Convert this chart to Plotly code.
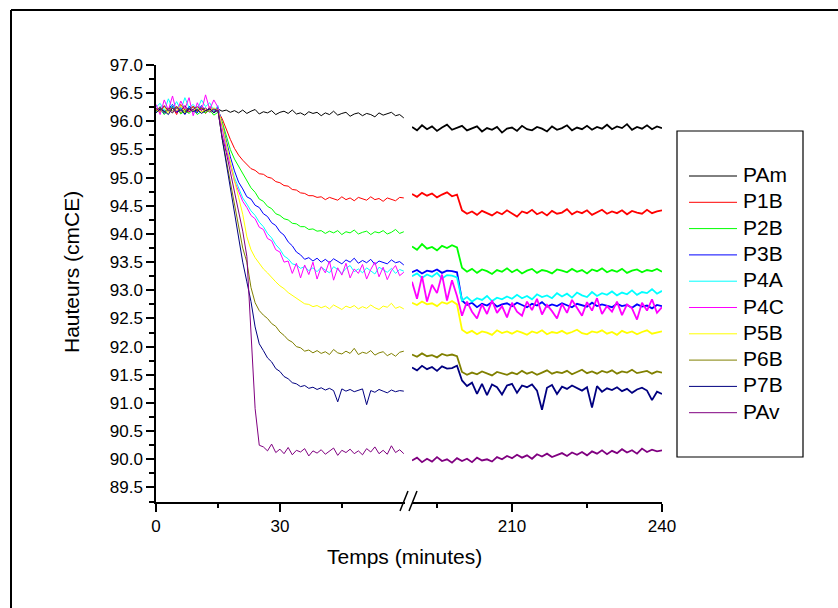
import plotly.graph_objects as go

# ---------------- data ----------------
t_left = list(range(0, 61))      # minutes, first segment
t_right = list(range(190, 241))  # minutes, second segment

names = ["PAm", "P1B", "P2B", "P3B", "P4A", "P4C", "P5B", "P6B", "P7B", "PAv"]
colors = ["#000000", "#FF0000", "#00FF00", "#0000FF", "#00FFFF",
          "#FF00FF", "#FFFF00", "#808000", "#000080", "#800080"]

pam_left = [96.20, 96.24, 96.17, 96.22, 96.26, 96.19, 96.23, 96.16, 96.25, 96.20,
            96.18, 96.23, 96.19, 96.22, 96.20, 96.22, 96.18, 96.20, 96.16, 96.19,
            96.15, 96.20, 96.14, 96.18, 96.21, 96.13, 96.17, 96.15, 96.19, 96.12,
            96.16, 96.18, 96.14, 96.20, 96.13, 96.15, 96.11, 96.17, 96.14, 96.16,
            96.10, 96.15, 96.12, 96.18, 96.11, 96.14, 96.16, 96.09, 96.13, 96.15,
            96.10, 96.14, 96.12, 96.08, 96.15, 96.11, 96.13, 96.16, 96.10, 96.12,
            96.06]
p1b_left = [96.22, 96.15, 96.28, 96.18, 96.25, 96.12, 96.30, 96.20, 96.16, 96.27,
            96.19, 96.24, 96.14, 96.26, 96.21, 96.18, 96.05, 95.85, 95.68, 95.52,
            95.40, 95.31, 95.24, 95.16, 95.13, 95.07, 95.06, 95.01, 94.99, 94.93,
            94.91, 94.86, 94.85, 94.79, 94.78, 94.73, 94.72, 94.68, 94.68, 94.65,
            94.66, 94.61, 94.65, 94.62, 94.60, 94.66, 94.61, 94.64, 94.59, 94.65,
            94.62, 94.60, 94.66, 94.61, 94.63, 94.58, 94.64, 94.61, 94.59, 94.65,
            94.64]
p2b_left = [96.16, 96.22, 96.12, 96.20, 96.15, 96.24, 96.13, 96.19, 96.14, 96.21,
            96.12, 96.18, 96.15, 96.20, 96.11, 96.16, 96.00, 95.76, 95.50, 95.33,
            95.20, 95.08, 94.96, 94.82, 94.74, 94.62, 94.58, 94.49, 94.45, 94.36,
            94.33, 94.27, 94.25, 94.19, 94.18, 94.13, 94.13, 94.08, 94.09, 94.05,
            94.06, 94.01, 94.05, 94.02, 94.06, 93.99, 94.04, 94.02, 94.07, 94.00,
            94.03, 94.05, 93.99, 94.04, 94.02, 94.06, 94.00, 94.03, 94.08, 94.01,
            94.04]
p3b_left = [96.18, 96.26, 96.14, 96.22, 96.30, 96.17, 96.24, 96.12, 96.27, 96.20,
            96.15, 96.28, 96.19, 96.23, 96.16, 96.25, 95.95, 95.65, 95.37, 95.12,
            94.92, 94.80, 94.66, 94.62, 94.51, 94.47, 94.36, 94.31, 94.20, 94.15,
            94.04, 93.98, 93.86, 93.79, 93.68, 93.63, 93.55, 93.58, 93.52, 93.57,
            93.50, 93.55, 93.49, 93.56, 93.51, 93.47, 93.54, 93.50, 93.57, 93.48,
            93.53, 93.49, 93.55, 93.46, 93.52, 93.50, 93.47, 93.54, 93.49, 93.51,
            93.45]
p4a_left = [96.25, 96.32, 96.18, 96.40, 96.22, 96.35, 96.20, 96.42, 96.24, 96.30,
            96.21, 96.38, 96.26, 96.33, 96.19, 96.28, 95.90, 95.55, 95.26, 95.00,
            94.81, 94.64, 94.53, 94.41, 94.33, 94.21, 94.13, 94.01, 93.93, 93.81,
            93.73, 93.61, 93.56, 93.47, 93.45, 93.39, 93.42, 93.35, 93.40, 93.33,
            93.41, 93.36, 93.31, 93.42, 93.37, 93.30, 93.39, 93.44, 93.33, 93.38,
            93.31, 93.40, 93.35, 93.29, 93.41, 93.36, 93.32, 93.39, 93.30, 93.37,
            93.34]
p4c_left = [96.30, 96.12, 96.38, 96.20, 96.45, 96.15, 96.36, 96.22, 96.42, 96.10,
            96.33, 96.18, 96.47, 96.21, 96.38, 96.25, 95.90, 95.50, 95.22, 94.94,
            94.76, 94.58, 94.47, 94.33, 94.27, 94.12, 94.08, 93.92, 93.88, 93.72,
            93.68, 93.50, 93.52, 93.30, 93.48, 93.22, 93.45, 93.28, 93.50, 93.20,
            93.42, 93.31, 93.52, 93.18, 93.40, 93.27, 93.48, 93.22, 93.38, 93.30,
            93.46, 93.20, 93.37, 93.50, 93.24, 93.41, 93.19, 93.35, 93.44, 93.26,
            93.32]
p5b_left = [96.21, 96.17, 96.26, 96.14, 96.23, 96.19, 96.28, 96.15, 96.22, 96.18,
            96.25, 96.16, 96.21, 96.18, 96.24, 96.20, 95.95, 95.60, 95.25, 94.95,
            94.65, 94.35, 93.95, 93.72, 93.58, 93.48, 93.38, 93.31, 93.22, 93.15,
            93.08, 93.03, 92.96, 92.91, 92.85, 92.81, 92.76, 92.75, 92.71, 92.73,
            92.69, 92.72, 92.67, 92.74, 92.70, 92.66, 92.72, 92.69, 92.73, 92.67,
            92.71, 92.68, 92.74, 92.69, 92.66, 92.72, 92.70, 92.77, 92.68, 92.71,
            92.67]
p6b_left = [96.19, 96.25, 96.16, 96.23, 96.18, 96.27, 96.15, 96.22, 96.20, 96.26,
            96.17, 96.24, 96.19, 96.22, 96.16, 96.20, 95.70, 95.30, 94.90, 94.50,
            94.10, 93.75, 93.50, 93.05, 92.78, 92.64, 92.56, 92.50, 92.41, 92.36,
            92.26, 92.20, 92.12, 92.08, 92.00, 91.98, 91.92, 91.94, 91.89, 91.93,
            91.88, 91.91, 91.86, 91.95, 91.89, 91.87, 91.92, 91.88, 91.97, 91.86,
            91.90, 91.88, 91.93, 91.85, 91.89, 91.91, 91.84, 91.88, 91.83, 91.90,
            91.92]
p7b_left = [96.15, 96.22, 96.18, 96.12, 96.24, 96.16, 96.20, 96.13, 96.23, 96.17,
            96.21, 96.14, 96.19, 96.22, 96.15, 96.20, 95.70, 95.25, 94.80, 94.35,
            93.90, 93.50, 93.15, 92.80, 92.35, 92.05, 91.93, 91.80, 91.73, 91.61,
            91.56, 91.47, 91.43, 91.36, 91.34, 91.29, 91.31, 91.26, 91.28, 91.24,
            91.27, 91.23, 91.26, 91.22, 91.02, 91.25, 91.21, 91.24, 91.20, 91.23,
            91.25, 90.97, 91.22, 91.19, 91.24, 91.21, 91.18, 91.23, 91.20, 91.22,
            91.21]
pav_left = [96.23, 96.18, 96.27, 96.20, 96.15, 96.25, 96.19, 96.28, 96.17, 96.22,
            96.26, 96.20, 96.24, 96.16, 96.22, 96.19, 95.75, 95.45, 95.10, 94.80,
            94.45, 94.05, 93.60, 92.30, 90.90, 90.25, 90.22, 90.15, 90.27, 90.12,
            90.18, 90.10, 90.21, 90.08, 90.16, 90.13, 90.19, 90.06, 90.15, 90.11,
            90.17, 90.09, 90.14, 90.20, 90.07, 90.16, 90.12, 90.18, 90.10, 90.15,
            90.08, 90.19, 90.13, 90.22, 90.10, 90.16, 90.09, 90.24, 90.12, 90.17,
            90.10]

pam_right = [95.90, 95.84, 95.93, 95.86, 95.91, 95.83, 95.89, 95.94, 95.85, 95.88,
             95.92, 95.84, 95.87, 95.91, 95.82, 95.88, 95.85, 95.90, 95.80, 95.87,
             95.89, 95.83, 95.92, 95.86, 95.84, 95.90, 95.87, 95.82, 95.91, 95.85,
             95.88, 95.93, 95.84, 95.89, 95.86, 95.92, 95.85, 95.90, 95.87, 95.94,
             95.86, 95.91, 95.88, 95.95, 95.85, 95.90, 95.87, 95.93, 95.86, 95.91,
             95.88]
p1b_right = [94.71, 94.66, 94.73, 94.68, 94.72, 94.65, 94.70, 94.74, 94.67, 94.70,
             94.42, 94.36, 94.40, 94.34, 94.41, 94.37, 94.33, 94.39, 94.35, 94.42,
             94.36, 94.31, 94.40, 94.37, 94.43, 94.35, 94.39, 94.33, 94.41, 94.36,
             94.38, 94.44, 94.35, 94.40, 94.37, 94.42, 94.34, 94.39, 94.43, 94.36,
             94.40, 94.37, 94.42, 94.35, 94.41, 94.38, 94.36, 94.43, 94.37, 94.40,
             94.42]
p2b_right = [93.78, 93.72, 93.82, 93.74, 93.77, 93.71, 93.79, 93.75, 93.80, 93.76,
             93.40, 93.33, 93.38, 93.31, 93.37, 93.34, 93.29, 93.36, 93.33, 93.39,
             93.32, 93.37, 93.30, 93.35, 93.38, 93.31, 93.36, 93.34, 93.30, 93.37,
             93.35, 93.32, 93.38, 93.33, 93.36, 93.30, 93.37, 93.34, 93.39, 93.32,
             93.36, 93.33, 93.38, 93.31, 93.35, 93.37, 93.32, 93.36, 93.34, 93.38,
             93.33]
p3b_right = [93.32, 93.36, 93.30, 93.35, 93.33, 93.37, 93.31, 93.35, 93.34, 93.32,
             92.82, 92.74, 92.78, 92.70, 92.76, 92.73, 92.79, 92.71, 92.75, 92.77,
             92.72, 92.78, 92.74, 92.70, 92.76, 92.73, 92.79, 92.71, 92.75, 92.72,
             92.77, 92.73, 92.70, 92.76, 92.74, 92.71, 92.78, 92.72, 92.75, 92.73,
             92.70, 92.76, 92.72, 92.74, 92.69, 92.75, 92.71, 92.73, 92.68, 92.74,
             92.72]
p4a_right = [93.25, 93.30, 93.22, 93.28, 93.24, 93.31, 93.21, 93.27, 93.26, 93.23,
             92.82, 92.88, 92.80, 92.86, 92.83, 92.90, 92.81, 92.87, 92.84, 92.89,
             92.85, 92.92, 92.86, 92.90, 92.84, 92.93, 92.88, 92.91, 92.86, 92.95,
             92.89, 92.94, 92.87, 92.96, 92.91, 92.88, 92.97, 92.90, 92.95, 92.92,
             92.98, 92.91, 92.96, 92.93, 93.00, 92.92, 92.97, 92.95, 93.02, 92.94,
             92.99]
p4c_right = [93.15, 92.85, 93.25, 92.80, 93.10, 92.95, 93.28, 92.82, 93.18, 92.90,
             92.55, 92.80, 92.62, 92.50, 92.75, 92.58, 92.82, 92.60, 92.72, 92.52,
             92.78, 92.62, 92.55, 92.80, 92.65, 92.85, 92.57, 92.74, 92.63, 92.50,
             92.76, 92.60, 92.83, 92.68, 92.55, 92.79, 92.64, 92.86, 92.58, 92.72,
             92.62, 92.80, 92.56, 92.75, 92.68, 92.48, 92.78, 92.64, 92.84, 92.60,
             92.70]
p5b_right = [92.78, 92.74, 92.80, 92.75, 92.77, 92.72, 92.79, 92.76, 92.81, 92.75,
             92.30, 92.24, 92.28, 92.22, 92.27, 92.25, 92.21, 92.29, 92.24, 92.27,
             92.23, 92.28, 92.25, 92.21, 92.27, 92.24, 92.29, 92.22, 92.26, 92.24,
             92.28, 92.23, 92.26, 92.30, 92.24, 92.22, 92.27, 92.25, 92.29, 92.23,
             92.26, 92.21, 92.28, 92.24, 92.27, 92.22, 92.26, 92.29, 92.23, 92.25,
             92.27]
p6b_right = [91.86, 91.82, 91.88, 91.83, 91.85, 91.81, 91.87, 91.84, 91.86, 91.83,
             91.55, 91.50, 91.54, 91.51, 91.56, 91.52, 91.49, 91.55, 91.53, 91.50,
             91.54, 91.51, 91.57, 91.52, 91.55, 91.50, 91.54, 91.58, 91.52, 91.55,
             91.53, 91.57, 91.51, 91.55, 91.59, 91.53, 91.56, 91.52, 91.57, 91.54,
             91.58, 91.52, 91.56, 91.54, 91.59, 91.53, 91.55, 91.57, 91.52, 91.56,
             91.54]
p7b_right = [91.63, 91.58, 91.66, 91.60, 91.64, 91.57, 91.65, 91.61, 91.62, 91.66,
             91.40, 91.30, 91.36, 91.16, 91.34, 91.14, 91.33, 91.28, 91.15, 91.31,
             91.34, 91.18, 91.31, 91.28, 91.33, 91.22, 90.88, 91.27, 91.32, 91.16,
             91.29, 91.25, 91.31, 91.27, 91.22, 91.28, 90.92, 91.30, 91.20, 91.26,
             91.23, 91.28, 91.21, 91.25, 91.18, 91.24, 91.27, 91.22, 91.05, 91.20,
             91.16]
pav_right = [89.98, 90.03, 89.95, 90.01, 89.96, 90.04, 89.97, 90.00, 89.94, 90.02,
             89.97, 90.01, 89.95, 90.03, 89.98, 90.00, 89.96, 90.04, 90.00, 90.06,
             90.02, 90.08, 90.03, 90.07, 90.01, 90.09, 90.05, 90.10, 90.04, 90.08,
             90.11, 90.06, 90.12, 90.08, 90.13, 90.07, 90.14, 90.10, 90.16, 90.09,
             90.15, 90.11, 90.18, 90.12, 90.16, 90.10, 90.19, 90.13, 90.17, 90.14,
             90.16]

left_values = [pam_left, p1b_left, p2b_left, p3b_left, p4a_left,
               p4c_left, p5b_left, p6b_left, p7b_left, pav_left]
right_values = [pam_right, p1b_right, p2b_right, p3b_right, p4a_right,
                p4c_right, p5b_right, p6b_right, p7b_right, pav_right]

y_ticks = [89.5 + 0.5 * i for i in range(16)]

# ---------------- layout geometry (pixels) ----------------
W, H = 838, 608
ML, MR, MT, MB = 156, 176, 65, 106
PW, PH = W - ML - MR, H - MT - MB


def px(x):
    return (x - ML) / PW


def py(y):
    return (H - MB - y) / PH


FONT = "Liberation Sans, Arial, sans-serif"

fig = go.Figure()
for name, col, yl, yr in zip(names, colors, left_values, right_values):
    assert len(yl) == len(t_left) and len(yr) == len(t_right), name
    fig.add_trace(go.Scatter(x=t_left, y=yl, mode="lines", name=name,
                             line=dict(color=col, width=1),
                             xaxis="x", yaxis="y"))
    fig.add_trace(go.Scatter(x=t_right, y=yr, mode="lines", name=name,
                             line=dict(color=col, width=1.8),
                             xaxis="x2", yaxis="y"))

axis_common = dict(showgrid=False, zeroline=False, showline=True,
                   linecolor="black", linewidth=1.5, ticks="outside",
                   tickcolor="black", tickwidth=1.5, ticklen=8,
                   tickfont=dict(family=FONT, size=17, color="black"))

fig.update_layout(
    width=W, height=H,
    margin=dict(l=ML, r=MR, t=MT, b=MB),
    paper_bgcolor="white", plot_bgcolor="white",
    font=dict(family=FONT, color="black"),
    xaxis=dict(domain=[0, px(405)], range=[0, (405 - ML) / 4.13],
               tickmode="array", tickvals=[0, 30], ticktext=["0", "30"],
               minor=dict(tickmode="array", tickvals=[15, 45], ticks="outside",
                          ticklen=4, tickcolor="black", tickwidth=1.5),
               anchor="y", **axis_common),
    xaxis2=dict(domain=[px(412), 1], range=[190, 240],
                tickmode="array", tickvals=[210, 240], ticktext=["210", "240"],
                minor=dict(tickmode="array", tickvals=[195, 225], ticks="outside",
                           ticklen=4, tickcolor="black", tickwidth=1.5),
                anchor="y", **axis_common),
    yaxis=dict(range=[97.0 - (H - MB - MT) / 56.33, 97.0],
               tickmode="array", tickvals=y_ticks,
               ticktext=[f"{v:.1f}" for v in y_ticks],
               minor=dict(dtick=0.25, tick0=89.5, ticks="outside", ticklen=5,
                          tickcolor="black", tickwidth=1.5),
               anchor="x", **axis_common),
    showlegend=False,
)

# titles
fig.add_annotation(text="Temps (minutes)", xref="paper", yref="paper",
                   x=px(404), y=py(556), showarrow=False,
                   font=dict(family=FONT, size=21, color="black"),
                   xanchor="center", yanchor="middle")
fig.add_annotation(text="Hauteurs (cmCE)", xref="paper", yref="paper",
                   x=px(71), y=py(272), showarrow=False, textangle=-90,
                   font=dict(family=FONT, size=21, color="black"),
                   xanchor="center", yanchor="middle")

shapes = []
# axis break marks
for x0 in (400, 409):
    shapes.append(dict(type="line", xref="paper", yref="paper",
                       x0=px(x0), y0=py(511), x1=px(x0 + 8), y1=py(491),
                       line=dict(color="black", width=1.5)))

# legend (frame, sample lines, labels) in the style of the original
shapes.append(dict(type="rect", xref="paper", yref="paper",
                   x0=px(677), y0=py(457), x1=px(803), y1=py(131),
                   line=dict(color="black", width=1.2)))
LEG_Y0, LEG_DY = 176, 26.3
for i, (name, col) in enumerate(zip(names, colors)):
    yc = LEG_Y0 + i * LEG_DY
    shapes.append(dict(type="line", xref="paper", yref="paper",
                       x0=px(689), x1=px(737), y0=py(yc), y1=py(yc),
                       line=dict(color=col, width=1)))
    fig.add_annotation(text=name, xref="paper", yref="paper",
                       x=px(741), y=py(yc - 1.5), showarrow=False,
                       xanchor="left", yanchor="middle",
                       font=dict(family=FONT, size=21, color="black"))

# outer frame (left and top edges visible)
shapes.append(dict(type="line", xref="paper", yref="paper",
                   x0=px(11), y0=py(10), x1=px(11), y1=py(640),
                   line=dict(color="black", width=2)))
shapes.append(dict(type="line", xref="paper", yref="paper",
                   x0=px(11), y0=py(10), x1=px(870), y1=py(10),
                   line=dict(color="black", width=2)))
fig.update_layout(shapes=shapes)

fig.write_html("out.html")
